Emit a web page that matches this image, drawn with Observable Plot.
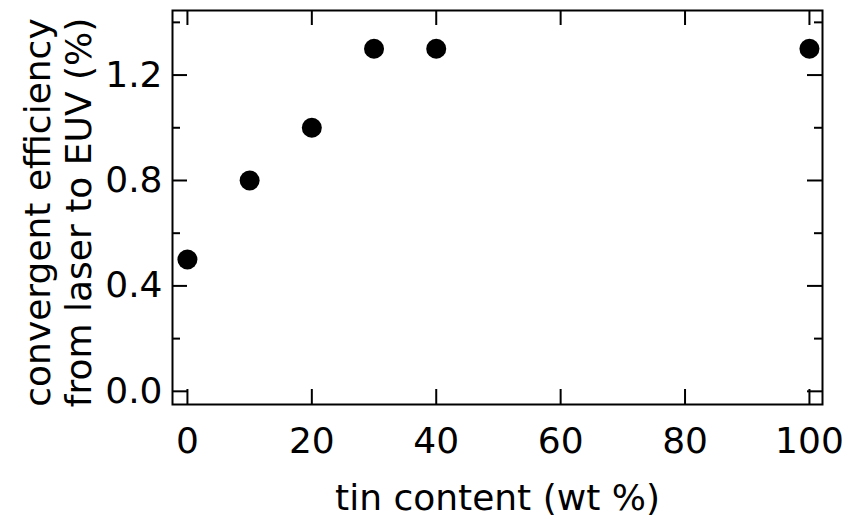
<!DOCTYPE html>
<html>
<head>
<meta charset="utf-8">
<script src="https://cdn.jsdelivr.net/npm/d3@7"></script>
<script src="https://cdn.jsdelivr.net/npm/@observablehq/plot@0.6"></script>
<style>
  html, body { margin: 0; padding: 0; background: #fff; }
</style>
</head>
<body>
<div id="chart"></div>
<script>
// Data
const tinContent = [0, 10, 20, 30, 40, 100];
const efficiency = [0.5, 0.8, 1.0, 1.3, 1.3, 1.3];
const xTicks = [0, 20, 40, 60, 80, 100];
const yMajorTicks = [0.0, 0.4, 0.8, 1.2];
const yMinorTicks = [0.2, 0.6, 1.0, 1.4];
const xLabel = "tin content (wt %)";
const yLabel = "convergent efficiency\nfrom laser to EUV (%)";

const points = tinContent.map((x, i) => ({x, y: efficiency[i]}));

const W = 849, H = 522;
const mLeft = 172, mRight = 27, mTop = 10, mBottom = 118;
const innerW = W - mLeft - mRight;
const innerH = H - mTop - mBottom;
const major = 15, minor = 8;

const chart = Plot.plot({
  width: W,
  height: H,
  marginLeft: mLeft,
  marginRight: mRight,
  marginTop: mTop,
  marginBottom: mBottom,
  style: {fontFamily: "DejaVu Sans", fontSize: "36px", background: "#fff", color: "#000"},
  x: {domain: [-2.4, 102.1]},
  y: {domain: [-0.05, 1.445]},
  marks: [
    Plot.axisX(xTicks, {anchor: "bottom", tickSize: 0, tickPadding: 23, label: null, fontSize: 36}),
    Plot.axisY(yMajorTicks, {anchor: "left", tickSize: 0, tickPadding: 10, label: null, fontSize: 36, tickFormat: d3.format(".1f")}),
    // inward ticks
    Plot.tickX(xTicks, {x: d => d, insetTop: innerH - major, stroke: "#000", strokeWidth: 2}),
    Plot.tickX(xTicks, {x: d => d, insetBottom: innerH - major, stroke: "#000", strokeWidth: 2}),
    Plot.tickY(yMajorTicks, {y: d => d, insetRight: innerW - major, stroke: "#000", strokeWidth: 2}),
    Plot.tickY(yMajorTicks, {y: d => d, insetLeft: innerW - major, stroke: "#000", strokeWidth: 2}),
    Plot.tickY(yMinorTicks, {y: d => d, insetRight: innerW - minor, stroke: "#000", strokeWidth: 2}),
    Plot.tickY(yMinorTicks, {y: d => d, insetLeft: innerW - minor, stroke: "#000", strokeWidth: 2}),
    Plot.frame({stroke: "#000", strokeWidth: 2}),
    Plot.dot(points, {x: "x", y: "y", r: 10, fill: "#000", stroke: "none"}),
    Plot.text([xLabel], {frameAnchor: "bottom", lineAnchor: "bottom", dy: 105, fontSize: 36, fill: "#000"}),
    Plot.text([yLabel], {frameAnchor: "left", textAnchor: "middle", rotate: -90, lineAnchor: "bottom", lineHeight: 1.12, dx: -82, dy: 5, fontSize: 36, fill: "#000"})
  ]
});
document.getElementById("chart").appendChild(chart);
</script>
</body>
</html>
